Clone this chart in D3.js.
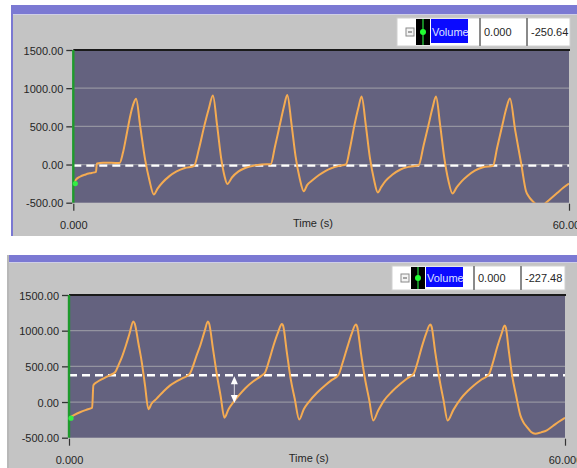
<!DOCTYPE html>
<html>
<head>
<meta charset="utf-8">
<script src="https://cdn.jsdelivr.net/npm/d3@7"></script>
<style>
  html, body { margin: 0; padding: 0; background: #ffffff; }
  svg { display: block; }
  text { font-family: "Liberation Sans", Arial, sans-serif; }
</style>
</head>
<body>
<div id="chart"></div>
<script>
// ---------------- data ----------------
const seriesName = "Volume";
const xTitle = "Time (s)";
const xDomain = [0, 60];
const xTickValues = [0, 60];
const xTickLabels = ["0.000", "60.000"];
const yTicks = [1500, 1000, 500, 0, -500];
const yTickLabels = ["1500.00", "1000.00", "500.00", "0.00", "-500.00"];
const gridValues = [1000, 500, 0];

const topTime = [
  0, 0.3, 0.8, 1.5, 2.2, 2.75, 2.85, 3.6, 4.6, 5.6,
  6.0, 6.5, 6.9, 7.3, 7.6,
  8.1, 8.7, 9.2, 9.75,
  10.2, 10.8, 11.6, 12.5, 13.5, 14.6,
  15.2, 15.8, 16.4, 16.9,
  17.4, 17.9, 18.3, 18.65,
  19.2, 20.0, 20.8, 21.8, 22.8, 23.9,
  24.4, 25.0, 25.5, 25.9,
  26.4, 26.9, 27.4, 27.9,
  28.3, 28.9, 29.7, 30.5, 31.3, 32.1, 33.0,
  33.5, 34.0, 34.5, 34.9,
  35.4, 35.9, 36.4, 36.85,
  37.3, 37.8, 38.6, 39.6, 40.6, 41.8,
  42.4, 43.0, 43.5, 43.9,
  44.4, 44.9, 45.4, 45.9,
  46.4, 47.0, 47.7, 48.6, 49.6, 50.8,
  51.3, 51.9, 52.4, 52.85,
  53.5, 54.2, 54.8, 55.2, 55.8, 56.5, 57.2, 57.8, 58.6, 59.3, 60
];
const topVolume = [
  -250, -200, -160, -130, -110, -95, 15, 22, 22, 20,
  150, 420, 640, 800, 862,
  500, 60, -200, -393,
  -315, -235, -155, -90, -45, -20,
  200, 480, 730, 905,
  520, 80, -150, -255,
  -170, -90, -45, -15, 0, 5,
  230, 520, 760, 912,
  540, 110, -180, -350,
  -270, -210, -140, -85, -45, -20, 0,
  220, 500, 740, 890,
  520, 90, -200, -365,
  -290, -215, -135, -65, -30, -10,
  250, 520, 750, 890,
  520, 90, -210, -380,
  -300, -220, -150, -80, -35, -15,
  220, 500, 730, 865,
  440, 20, -350, -430, -500, -570, -500, -445, -370, -305, -250
];

const bottomTime = [
  0, 0.6, 1.4, 2.2, 2.8, 2.95, 3.4, 4.0, 4.9, 5.6,
  6.0, 6.4, 6.9, 7.3, 7.78,
  7.95, 8.4, 8.8, 9.2, 9.6,
  10.0, 10.6, 11.4, 12.2, 13.0, 13.8, 14.6,
  14.9, 15.4, 15.9, 16.4, 16.8,
  16.95, 17.4, 17.9, 18.35, 18.8,
  19.3, 19.9, 20.6, 21.3, 22.3, 23.3, 23.7,
  24.2, 24.75, 25.3, 25.75,
  25.9, 26.35, 26.8, 27.3, 27.85,
  28.4, 29.0, 30.0, 31.0, 31.8, 32.6,
  33.1, 33.7, 34.2, 34.7,
  34.85, 35.3, 35.8, 36.3, 36.8,
  37.4, 38.1, 39.1, 40.1, 40.9, 41.7,
  42.2, 42.7, 43.2, 43.7,
  43.85, 44.3, 44.8, 45.3, 45.8,
  46.5, 47.4, 48.2, 49.0, 49.9, 50.8,
  51.3, 51.8, 52.3, 52.7,
  52.85, 53.2, 53.6, 54.1, 54.6, 55.0, 55.4, 55.9, 56.4, 57.1, 57.8, 58.5, 59.2, 60
];
const bottomVolume = [
  -227, -185, -140, -105, -80, 235, 280, 320, 375, 421,
  520, 630, 800, 950, 1130,
  1100, 820, 560, 230, -100,
  -20, 48, 145, 230, 290, 337, 395,
  470, 640, 800, 990, 1130,
  1100, 760, 375, 80, -220,
  -100, 0, 100, 190, 290, 370, 410,
  580, 796, 980, 1095,
  1070, 700, 334, 50, -245,
  -100, 0, 130, 235, 310, 380,
  550, 780, 960, 1085,
  1060, 700, 330, 40, -258,
  -120, 20, 150, 255, 330, 398,
  570, 780, 960, 1085,
  1060, 700, 330, 30, -260,
  -110, 48, 150, 235, 315, 388,
  560, 770, 950, 1072,
  1040, 720, 375, 80, -187, -290, -351, -420, -444, -425, -397, -340, -280, -220
];

const dashedLevels = [-15, 375];
const cursorTimes = ["0.000", "0.000"];
const cursorValues = ["-250.64", "-227.48"];
const arrowTime = 20;
const arrowFrom = 360;
const arrowTo = -12;

// ---------------- layout ----------------
const W = 577, H = 468;
const panels = [
  { time: topTime, vals: topVolume, dashed: dashedLevels[0], cursor: cursorTimes[0], value: cursorValues[0],
    frame: { x: 11, y: 5, w: 566, h: 231, band: 9, border: "#7a78d2" },
    plot: { left: 73.3, right: 569, top: 50, bottom: 202.7 },
    legend: { x: 397, y: 18, w: 173, h: 28, sep1: 480, sep2: 527 },
    arrow: false },
  { time: bottomTime, vals: bottomVolume, dashed: dashedLevels[1], cursor: cursorTimes[1], value: cursorValues[1],
    frame: { x: 7, y: 255, w: 570, h: 213, band: 7, border: "#b8b8b8" },
    plot: { left: 69, right: 565, top: 295, bottom: 437.7 },
    legend: { x: 392, y: 266, w: 173, h: 24, sep1: 474, sep2: 521 },
    arrow: true }
];

const svg = d3.select("#chart").append("svg").attr("width", W).attr("height", H);
const defs = svg.append("defs");

panels.forEach((p, i) => {
  const f = p.frame;
  const g = svg.append("g");
  // panel background
  g.append("rect").attr("x", f.x).attr("y", f.y).attr("width", f.w).attr("height", f.h).attr("fill", "#c4c4c4");
  g.append("rect").attr("x", f.x).attr("y", f.y).attr("width", f.w).attr("height", f.band).attr("fill", "#7b79d3");
  g.append("rect").attr("x", f.x).attr("y", f.y + f.band).attr("width", f.w).attr("height", 1).attr("fill", "#cfcfe6");
  g.append("rect").attr("x", f.x).attr("y", f.y).attr("width", 2).attr("height", f.h).attr("fill", f.border);

  const x = d3.scaleLinear().domain(xDomain).range([p.plot.left, p.plot.right]);
  const y = d3.scaleLinear().domain([-500, 1500]).range([p.plot.bottom, p.plot.top]);

  // plot area
  g.append("rect").attr("x", x(0)).attr("y", y(1500)).attr("width", x(60) - x(0)).attr("height", y(-500) - y(1500))
    .attr("fill", "#64627f");

  // grid
  g.selectAll(".grid").data(gridValues).enter().append("line")
    .attr("x1", x(0)).attr("x2", x(60)).attr("y1", d => y(d)).attr("y2", d => y(d))
    .attr("stroke", "#9494a0").attr("stroke-width", 1.3);

  // top border
  g.append("line").attr("x1", x(0)).attr("x2", x(60) + 1).attr("y1", y(1500)).attr("y2", y(1500))
    .attr("stroke", "#1a1a1a").attr("stroke-width", 2);

  // y axis
  const yAxis = d3.axisLeft(y).tickValues(yTicks).tickSize(6).tickPadding(3)
    .tickFormat((d, k) => yTickLabels[k]);
  const ya = g.append("g").attr("transform", `translate(${x(0) - 1},0)`).call(yAxis);
  ya.select(".domain").remove();
  ya.selectAll("line").attr("stroke", "#333").attr("stroke-width", 1.3);
  ya.selectAll("text").attr("font-size", 11).attr("fill", "#262626").attr("dy", "0.38em")
    .attr("font-family", "Liberation Sans, Arial, sans-serif");

  // x axis
  const xAxis = d3.axisBottom(x).tickValues(xTickValues).tickSize(7).tickPadding(11)
    .tickFormat((d, k) => xTickLabels[k]);
  const xa = g.append("g").attr("transform", `translate(0,${y(-500) + 1})`).call(xAxis);
  xa.select(".domain").remove();
  xa.selectAll("line").attr("stroke", "#333").attr("stroke-width", 1.2);
  xa.selectAll("text").attr("font-size", 11).attr("fill", "#262626")
    .attr("font-family", "Liberation Sans, Arial, sans-serif");

  g.append("text").attr("x", x(29)).attr("y", y(-500) + 24).attr("text-anchor", "middle")
    .attr("font-size", 11).attr("fill", "#262626").text(xTitle);

  // clip
  const cid = "clip" + i;
  defs.append("clipPath").attr("id", cid).append("rect")
    .attr("x", x(0)).attr("y", y(1500)).attr("width", x(60) - x(0)).attr("height", y(-500) - y(1500));
  const inner = g.append("g").attr("clip-path", `url(#${cid})`);

  // dashed cursor level
  inner.append("line").attr("x1", x(0)).attr("x2", x(60)).attr("y1", y(p.dashed)).attr("y2", y(p.dashed))
    .attr("stroke", "#ffffff").attr("stroke-width", 2.4).attr("stroke-dasharray", "8,5");

  // series
  const pts = p.time.map((t, k) => [t, p.vals[k]]);
  const line = d3.line().x(d => x(d[0])).y(d => y(d[1])).curve(d3.curveMonotoneX);
  inner.append("path").attr("d", line(pts)).attr("fill", "none")
    .attr("stroke", "#f4ab52").attr("stroke-width", 2).attr("stroke-linejoin", "round");

  // arrow annotation
  if (p.arrow) {
    const ax = x(arrowTime), y1 = y(arrowFrom), y2 = y(arrowTo);
    inner.append("line").attr("x1", ax).attr("x2", ax).attr("y1", y1 + 5).attr("y2", y2 - 5)
      .attr("stroke", "#d8d8e0").attr("stroke-width", 1);
    inner.append("path").attr("d", `M${ax},${y1} L${ax - 3.5},${y1 + 8} L${ax + 3.5},${y1 + 8} Z`).attr("fill", "#fff");
    inner.append("path").attr("d", `M${ax},${y2} L${ax - 3.5},${y2 - 8} L${ax + 3.5},${y2 - 8} Z`).attr("fill", "#fff");
  }

  // green left axis line
  g.append("line").attr("x1", x(0)).attr("x2", x(0)).attr("y1", y(1500)).attr("y2", y(-500))
    .attr("stroke", "#1e9a2c").attr("stroke-width", 2.4);
  // start cursor dot
  g.append("circle").attr("cx", x(p.time[0]) + 2).attr("cy", y(p.vals[0])).attr("r", 2.6).attr("fill", "#33ee44");

  // legend
  const L = p.legend;
  const lg = g.append("g");
  lg.append("rect").attr("x", L.x).attr("y", L.y).attr("width", L.w).attr("height", L.h)
    .attr("fill", "#ffffff").attr("stroke", "#d0d0d0").attr("stroke-width", 1);
  [L.sep1, L.sep2].forEach(sx => {
    lg.append("rect").attr("x", sx - 1).attr("y", L.y).attr("width", 2).attr("height", L.h).attr("fill", "#8a8a8a");
  });
  const cy = L.y + L.h / 2;
  // collapse icon
  lg.append("rect").attr("x", L.x + 9).attr("y", cy - 4).attr("width", 8).attr("height", 8)
    .attr("fill", "#f4f4f4").attr("stroke", "#8a8a8a").attr("stroke-width", 1);
  lg.append("line").attr("x1", L.x + 11).attr("x2", L.x + 15).attr("y1", cy).attr("y2", cy)
    .attr("stroke", "#555").attr("stroke-width", 1);
  // plot icon
  lg.append("rect").attr("x", L.x + 19).attr("y", L.y + 1).attr("width", 14).attr("height", L.h - 2).attr("fill", "#000");
  lg.append("line").attr("x1", L.x + 26).attr("x2", L.x + 26).attr("y1", L.y + 1).attr("y2", L.y + L.h - 1)
    .attr("stroke", "#1fb030").attr("stroke-width", 1.5);
  lg.append("circle").attr("cx", L.x + 26).attr("cy", cy).attr("r", 3).attr("fill", "#22ff33");
  // name
  lg.append("rect").attr("x", L.x + 34).attr("y", L.y + 1).attr("width", 37).attr("height", L.h - 4).attr("fill", "#0a0aff");
  lg.append("text").attr("x", L.x + 35).attr("y", cy + 4).attr("font-size", 11).attr("fill", "#dfe2ff").text(seriesName);
  lg.append("text").attr("x", L.sep1 + 4).attr("y", cy + 4).attr("font-size", 11).attr("fill", "#262626").text(p.cursor);
  lg.append("text").attr("x", L.sep2 + 4).attr("y", cy + 4).attr("font-size", 11).attr("fill", "#262626").text(p.value);
});
</script>
</body>
</html>
